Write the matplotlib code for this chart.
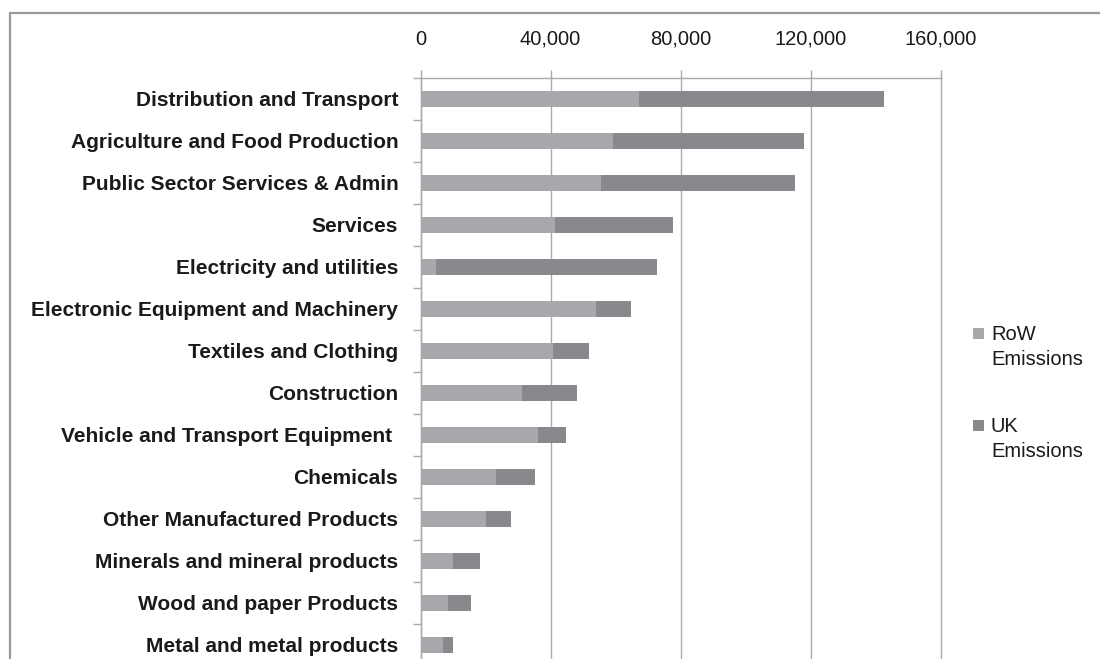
import matplotlib
matplotlib.use("Agg")
import matplotlib.pyplot as plt
from matplotlib.patches import Rectangle
from matplotlib.ticker import FuncFormatter
import numpy as np

plt.rcParams['font.family'] = ['Liberation Sans', 'DejaVu Sans']

categories = [
    "Distribution and Transport",
    "Agriculture and Food Production",
    "Public Sector Services & Admin",
    "Services",
    "Electricity and utilities",
    "Electronic Equipment and Machinery",
    "Textiles and Clothing",
    "Construction",
    "Vehicle and Transport Equipment ",
    "Chemicals",
    "Other Manufactured Products",
    "Minerals and mineral products",
    "Wood and paper Products",
    "Metal and metal products",
]
row_emissions = [67300, 59300, 55400, 41300, 4800, 53800, 40600, 31200, 36100, 23200, 20000, 10000, 8600, 7000]
uk_emissions = [75100, 58500, 59700, 36300, 67800, 10900, 11200, 16900, 8600, 12000, 7900, 8300, 6900, 2900]
x_ticks = [0, 40000, 80000, 120000, 160000]
series_labels = ["RoW\nEmissions", "UK\nEmissions"]

W, H = 1100, 659
fig = plt.figure(figsize=(W / 100, H / 100), dpi=100)
fig.patch.set_facecolor("white")

# outer chart border
fig.patches.append(Rectangle((9.5 / W, -0.1), 1.2, (H - 13) / H + 0.1,
                             transform=fig.transFigure, fill=False,
                             edgecolor="#9a9a9a", linewidth=1.6))

ax_left, ax_right, ax_top, ax_bottom = 420.5, 941.0, 78.0, 666.0
ax = fig.add_axes([ax_left / W, (H - ax_bottom) / H,
                   (ax_right - ax_left) / W, (ax_bottom - ax_top) / H])

row_color = "#a7a8ab"
uk_color = "#88898d"
y = np.arange(len(categories))
ax.barh(y, row_emissions, height=0.38, color=row_color, zorder=3)
ax.barh(y, uk_emissions, left=row_emissions, height=0.38, color=uk_color, zorder=3)

ax.set_xlim(0, 160000)
ax.set_ylim(len(categories) - 0.5, -0.5)

grid_color = "#aaaaaa"
ax.xaxis.tick_top()
ax.set_xticks(x_ticks)
ax.xaxis.set_major_formatter(FuncFormatter(lambda v, p: f"{int(v):,}"))
ax.tick_params(axis="x", which="major", length=6, width=1.0, color=grid_color,
               pad=15, labelsize=14.5, labelcolor="#1a1a1a")
ax.grid(axis="x", color=grid_color, linewidth=1.0, zorder=0)
for gl in ax.get_xgridlines():
    gl.set_clip_on(False)

ax.set_yticks(y)
ax.set_yticklabels(categories, fontweight="bold", fontsize=15, color="#1a1a1a")
ax.set_yticks(np.arange(-0.5, len(categories), 1), minor=True)
ax.tick_params(axis="y", which="major", length=0, pad=16)
ax.tick_params(axis="y", which="minor", length=6, width=1.0, color=grid_color)

for s in ["right", "bottom"]:
    ax.spines[s].set_visible(False)
for s in ["top", "left"]:
    ax.spines[s].set_color(grid_color)
    ax.spines[s].set_linewidth(1.0)

# legend
leg_items = [(row_color, 328), (uk_color, 420)]
for (col, ytop), lab in zip(leg_items, series_labels):
    fig.patches.append(Rectangle((973 / W, 1 - (ytop + 11) / H), 11 / W, 11 / H,
                                 transform=fig.transFigure, facecolor=col,
                                 edgecolor="none"))
    fig.text(991 / W, 1 - (ytop - 3) / H, lab, fontsize=14.5, color="#1a1a1a",
             ha="left", va="top", linespacing=1.38)

fig.savefig("out.png", dpi=100)
